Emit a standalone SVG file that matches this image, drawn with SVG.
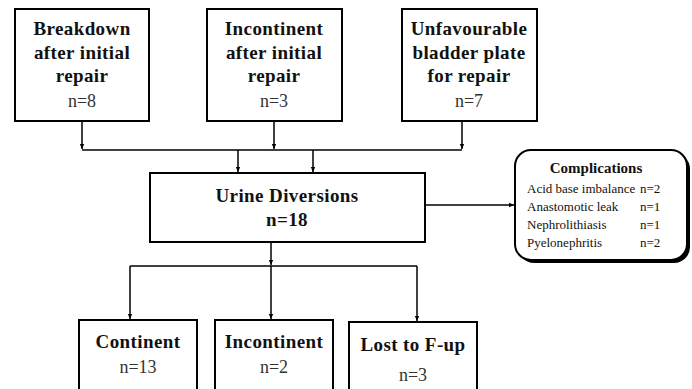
<svg xmlns="http://www.w3.org/2000/svg" width="692" height="389" viewBox="0 0 692 389">
<defs>
<marker id="ah" markerWidth="6" markerHeight="6" refX="5" refY="3" orient="auto" markerUnits="userSpaceOnUse">
<path d="M0,0.8 L5,3 L0,5.2 Z" fill="#000"/>
</marker>
<style>
.box{fill:#fff;stroke:#000;stroke-width:2}
.t{font-weight:bold;font-size:19px;fill:#111;text-anchor:middle;letter-spacing:0.4px}
.n{font-size:18px;fill:#333;text-anchor:middle}
.c{font-size:13px;fill:#111}
.ct{font-weight:bold;font-size:15px;fill:#111;text-anchor:middle}
.ln{fill:none;stroke:#000;stroke-width:1.5}
</style>
</defs>
<g id="connectors">
<line class="ln" x1="82" y1="121" x2="82" y2="149" marker-end="url(#ah)"/>
<line class="ln" x1="274" y1="121" x2="274" y2="149" marker-end="url(#ah)"/>
<line class="ln" x1="462" y1="121" x2="462" y2="149" marker-end="url(#ah)"/>
<line class="ln" x1="82" y1="150" x2="462" y2="150"/>
<line class="ln" x1="238" y1="150" x2="238" y2="172" marker-end="url(#ah)"/>
<line class="ln" x1="313" y1="150" x2="313" y2="172" marker-end="url(#ah)"/>
<line class="ln" x1="271" y1="242" x2="271" y2="265" marker-end="url(#ah)"/>
<line class="ln" x1="130" y1="266" x2="417" y2="266"/>
<line class="ln" x1="130" y1="266" x2="130" y2="319" marker-end="url(#ah)"/>
<line class="ln" x1="271" y1="266" x2="271" y2="319" marker-end="url(#ah)"/>
<line class="ln" x1="417" y1="266" x2="417" y2="321" marker-end="url(#ah)"/>
<line class="ln" x1="425" y1="205" x2="514" y2="205" marker-end="url(#ah)"/>
</g>
<g font-family="Liberation Serif, serif">
<g id="breakdown">
<rect class="box" x="15" y="9" width="134" height="112"/>
<text class="t" x="82" y="35">Breakdown</text>
<text class="t" x="82" y="59">after initial</text>
<text class="t" x="82" y="82">repair</text>
<text class="n" x="82" y="107">n=8</text>
</g>
<g id="incontinent-initial">
<rect class="box" x="207" y="9" width="135" height="112"/>
<text class="t" x="274" y="35">Incontinent</text>
<text class="t" x="274" y="59">after initial</text>
<text class="t" x="274" y="82">repair</text>
<text class="n" x="274" y="107">n=3</text>
</g>
<g id="unfavourable">
<rect class="box" x="402" y="9" width="135" height="112"/>
<text class="t" x="469" y="35">Unfavourable</text>
<text class="t" x="469" y="59">bladder plate</text>
<text class="t" x="469" y="82">for repair</text>
<text class="n" x="469" y="107">n=7</text>
</g>
<g id="urine-diversions">
<rect class="box" x="150" y="173" width="275" height="69"/>
<text class="t" x="287" y="202">Urine Diversions</text>
<text class="t" x="287" y="226">n=18</text>
</g>
<g id="complications">
<rect x="518" y="153" width="172" height="110" rx="16" fill="#000"/>
<rect class="box" x="515" y="150" width="172" height="110" rx="16"/>
<text class="ct" x="596" y="173">Complications</text>
<text class="c" x="527" y="193">Acid base imbalance</text>
<text class="c" x="527" y="211">Anastomotic leak</text>
<text class="c" x="527" y="229">Nephrolithiasis</text>
<text class="c" x="527" y="247">Pyelonephritis</text>
<text class="c" x="640" y="193">n=2</text>
<text class="c" x="640" y="211">n=1</text>
<text class="c" x="640" y="229">n=1</text>
<text class="c" x="640" y="247">n=2</text>
</g>
<g id="continent">
<rect class="box" x="79" y="320" width="118" height="75"/>
<text class="t" x="138" y="348">Continent</text>
<text class="n" x="138" y="373">n=13</text>
</g>
<g id="incontinent">
<rect class="box" x="215" y="320" width="118" height="75"/>
<text class="t" x="274" y="348">Incontinent</text>
<text class="n" x="274" y="373">n=2</text>
</g>
<g id="lost">
<rect class="box" x="349" y="322" width="128" height="75"/>
<text class="t" x="413" y="351">Lost to F-up</text>
<text class="n" x="413" y="381">n=3</text>
</g>
</g>
</svg>
